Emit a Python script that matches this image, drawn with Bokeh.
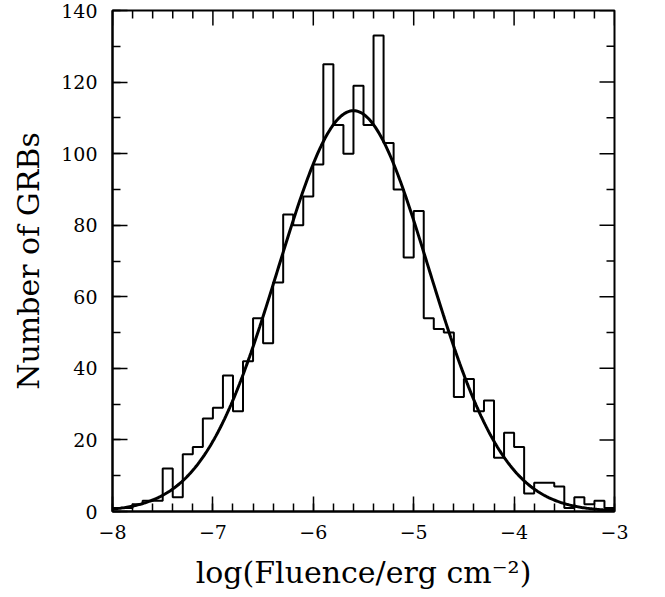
import numpy as np
from bokeh.plotting import figure
from bokeh.models import SingleIntervalTicker, Range1d
from bokeh.embed import file_html
from bokeh.resources import INLINE

# ---- data ----
bin_lo = -8.0
bin_hi = -3.0
bin_width = 0.1
counts = [1, 1, 2, 3, 3, 12, 4, 16, 18, 26,
          29, 38, 28, 42, 54, 47, 64, 83, 80, 88,
          97, 125, 108, 100, 119, 108, 133, 103, 90, 71,
          84, 54, 51, 50, 32, 37, 28, 31, 15, 22,
          18, 5, 8, 8, 7, 1, 4, 2, 3, 1]
# Gaussian fit parameters
fit_mean = -5.6
fit_sigma = 0.75
fit_amp = 112.0

x_ticks = [-8, -7, -6, -5, -4, -3]
y_ticks = [0, 20, 40, 60, 80, 100, 120, 140]
x_minor_step = 0.2
y_minor_step = 10

FONT = "DejaVu Serif"

p = figure(width=650, height=594, output_backend="svg", toolbar_location=None,
           x_range=Range1d(bin_lo, bin_hi), y_range=Range1d(y_ticks[0], y_ticks[-1]),
           min_border_left=112, min_border_right=36, min_border_top=10,
           min_border_bottom=83)
p.background_fill_color = "white"
p.border_fill_color = "white"
p.grid.visible = False
p.outline_line_color = "black"
p.outline_line_width = 2

n = len(counts)
left_edges = [bin_lo + i * bin_width for i in range(n)]
xs = [bin_lo] + left_edges + [bin_hi]
ys = [0] + counts + [0]
p.step(xs, ys, mode="after", line_color="black", line_width=2)

xc = np.linspace(bin_lo, bin_hi, 400)
yc = fit_amp * np.exp(-0.5 * ((xc - fit_mean) / fit_sigma) ** 2)
p.line(xc, yc, line_color="black", line_width=3)

def style(ax):
    ax.axis_line_color = "black"
    ax.axis_line_width = 2
    ax.major_tick_line_color = "black"
    ax.minor_tick_line_color = "black"
    ax.major_tick_line_width = 1.5
    ax.minor_tick_line_width = 1.5
    ax.major_tick_in = 15
    ax.major_tick_out = 0
    ax.minor_tick_in = 8
    ax.minor_tick_out = 0
    ax.major_label_text_font = FONT
    ax.major_label_text_font_size = "19px"
    ax.major_label_text_color = "black"
    ax.axis_label_text_font = FONT
    ax.axis_label_text_font_size = "30px"
    ax.axis_label_text_font_style = "normal"
    ax.axis_label_text_color = "black"

p.xaxis.ticker = SingleIntervalTicker(interval=1, num_minor_ticks=5)
p.yaxis.ticker = SingleIntervalTicker(interval=20, num_minor_ticks=2)
p.xaxis.major_label_overrides = {t: ("\u2212" + str(abs(t)) if t < 0 else str(t)) for t in x_ticks}
style(p.xaxis[0])
style(p.yaxis[0])
p.xaxis.axis_label = "log(Fluence/erg cm\u207b\u00b2)"
p.yaxis.axis_label = "Number of GRBs"
p.xaxis.major_label_standoff = 13
p.yaxis.major_label_standoff = 15
p.xaxis.axis_label_standoff = 13
p.yaxis.axis_label_standoff = 12

# mirrored inward ticks on the top and right edges
x_minor = [v for v in np.arange(bin_lo, bin_hi + 1e-9, x_minor_step)
           if min(abs(v - t) for t in x_ticks) > 1e-6]
y_minor = [v for v in np.arange(y_ticks[0], y_ticks[-1] + 1e-9, y_minor_step)
           if min(abs(v - t) for t in y_ticks) > 1e-6]
top_y = y_ticks[-1]
right_x = bin_hi
p.ray(x=x_ticks, y=[top_y] * len(x_ticks), length=15, length_units="screen",
      angle=-np.pi / 2, line_color="black", line_width=1.5)
p.ray(x=x_minor, y=[top_y] * len(x_minor), length=8, length_units="screen",
      angle=-np.pi / 2, line_color="black", line_width=1.5)
p.ray(x=[right_x] * len(y_ticks), y=y_ticks, length=15, length_units="screen",
      angle=np.pi, line_color="black", line_width=1.5)
p.ray(x=[right_x] * len(y_minor), y=y_minor, length=8, length_units="screen",
      angle=np.pi, line_color="black", line_width=1.5)

open("out.html", "w").write(file_html(p, INLINE))
